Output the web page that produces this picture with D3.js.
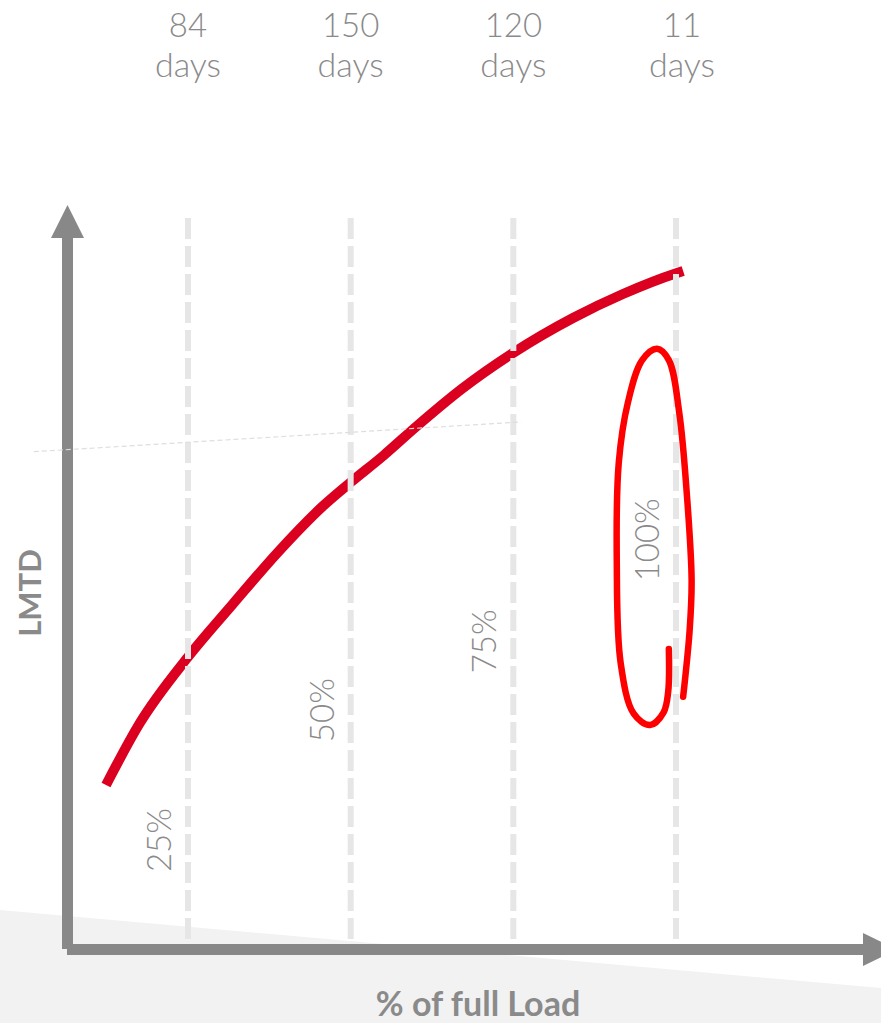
<!DOCTYPE html>
<html>
<head>
<meta charset="utf-8">
<script src="https://cdn.jsdelivr.net/npm/d3@7/dist/d3.min.js"></script>
<style>
  html, body { margin: 0; padding: 0; background: #ffffff; }
  svg { display: block; }
  text { font-family: Lato, "Open Sans", sans-serif; fill: #8a8a8a; }
</style>
</head>
<body>
<script>
// Load steps (% of full load) and days spent at each step
const loadSteps = [25, 50, 75, 100];
const daysAtLoad = [84, 150, 120, 11];
// Height (LMTD units) where each load label sits
const loadLabelLevel = [15.2, 33.5, 43.2, 57.5];

// LMTD curve against load
const curveLoad = [12.4, 17.6, 25, 31.9, 38.7, 45.75, 50.05, 54.97, 60.19, 67.26, 74.95, 84.17, 91.85, 100.15, 101.1];
const curveLmtd = [22.96, 31.69, 40.99, 48.45, 55.63, 62.25, 65.63, 69.3, 73.52, 78.87, 83.8, 88.73, 92.11, 95.07, 95.35];

// Faint reference line
const refLoad = [1.3, 76.2];
const refLmtd = [69.9, 74.1];

// Hand-drawn ring around the full-load step
const ringLoad = [98.9, 98.8, 98.1, 96.0, 93.5, 91.5, 90.9, 91.2, 92.6, 94.8, 97.1, 98.9, 100.5, 101.7, 102.4, 102.1, 101.1];
const ringLmtd = [42.1, 36.1, 33.2, 31.4, 33.0, 40.1, 54.2, 68.3, 76.8, 82.8, 84.4, 82.8, 75.4, 63.5, 51.8, 44.8, 35.4];

const W = 881, H = 1023;
const svg = d3.select("body").append("svg").attr("width", W).attr("height", H);

const x = d3.scaleLinear().domain([25, 100]).range([188, 676]);
const y = d3.scaleLinear().domain([0, 100]).range([948, 238]);

// light floor wedge
svg.append("path")
  .attr("d", `M0,910 L${W},988 L${W},${H} L0,${H} Z`)
  .attr("fill", "#f2f2f2");

// LMTD curve
const curvePts = curveLoad.map((d, i) => [x(d), y(curveLmtd[i])]);
svg.append("path")
  .attr("d", d3.line().curve(d3.curveMonotoneX)(curvePts))
  .attr("fill", "none")
  .attr("stroke", "#db0020")
  .attr("stroke-width", 10);

// dashed load guides (drawn from the bottom up)
svg.append("g").selectAll("line")
  .data(loadSteps)
  .join("line")
  .attr("x1", d => x(d)).attr("x2", d => x(d))
  .attr("y1", 939).attr("y2", 212)
  .attr("stroke", "#e6e6e6")
  .attr("stroke-width", 6)
  .attr("stroke-dasharray", "21,7");

// axes with arrowheads
const axisCol = "#888888";
svg.append("rect").attr("x", 62).attr("y", 236).attr("width", 11).attr("height", 713).attr("fill", axisCol);
svg.append("path").attr("d", "M67.5,205 L84,238 L51,238 Z").attr("fill", axisCol);
svg.append("rect").attr("x", 67).attr("y", 944).attr("width", 798).attr("height", 11).attr("fill", axisCol);
svg.append("path").attr("d", "M863,933 L897,949.5 L863,966 Z").attr("fill", axisCol);

// faint reference line
svg.append("path")
  .attr("d", d3.line()(refLoad.map((d, i) => [x(d), y(refLmtd[i])])))
  .attr("fill", "none")
  .attr("stroke", "#dedede")
  .attr("stroke-width", 1.2)
  .attr("stroke-dasharray", "5,3");

// ring annotation
svg.append("path")
  .attr("d", d3.line().curve(d3.curveCatmullRom.alpha(0.5))(ringLoad.map((d, i) => [x(d), y(ringLmtd[i])])))
  .attr("fill", "none")
  .attr("stroke", "#ff0000")
  .attr("stroke-width", 6.5)
  .attr("stroke-linecap", "round");

// days per load step
const dayLabels = svg.append("g").selectAll("g").data(loadSteps).join("g")
  .attr("transform", d => `translate(${x(d) + (d === 100 ? 6 : 0)},0)`);
dayLabels.append("text").attr("y", 37).attr("text-anchor", "middle")
  .style("font-size", "33px").style("font-weight", 300)
  .text((d, i) => daysAtLoad[i]);
dayLabels.append("text").attr("y", 77).attr("text-anchor", "middle")
  .style("font-size", "34px").style("font-weight", 300)
  .text("days");

// rotated load labels
svg.append("g").selectAll("text").data(loadSteps).join("text")
  .attr("transform", (d, i) => `translate(${x(d) - 17},${y(loadLabelLevel[i])}) rotate(-90)`)
  .attr("text-anchor", "middle")
  .style("font-size", "33px").style("font-weight", 300)
  .text(d => d + "%");

// axis titles
svg.append("text")
  .attr("transform", "translate(41,593) rotate(-90)")
  .attr("text-anchor", "middle")
  .style("font-size", "31px").style("font-weight", 700)
  .text("LMTD");
svg.append("text")
  .attr("x", 478).attr("y", 1016)
  .attr("text-anchor", "middle")
  .style("font-size", "34px").style("font-weight", 700)
  .text("% of full Load");
</script>
</body>
</html>
